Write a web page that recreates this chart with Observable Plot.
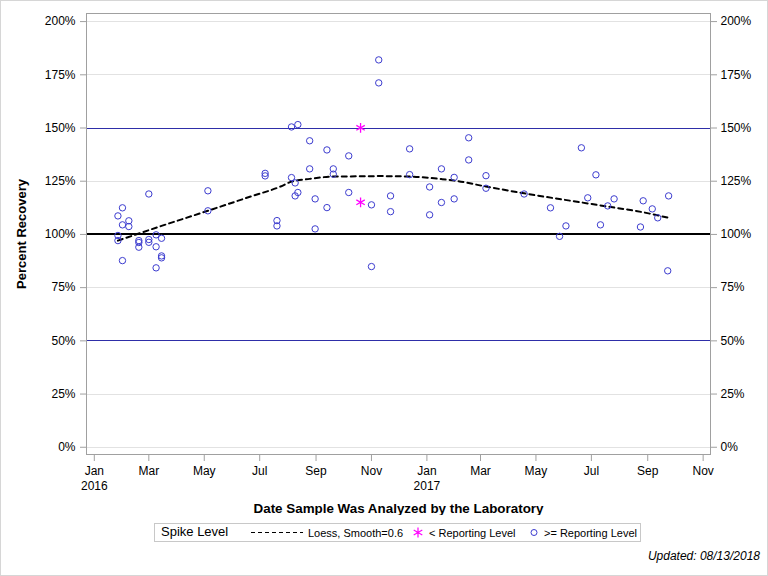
<!DOCTYPE html>
<html>
<head>
<meta charset="utf-8">
<script src="https://cdn.jsdelivr.net/npm/d3@7"></script>
<script src="https://cdn.jsdelivr.net/npm/@observablehq/plot@0.6"></script>
<style>
  body { margin: 0; background: #fff; font-family: "Liberation Sans", Arial, sans-serif; }
  #page { position: relative; width: 768px; height: 576px; overflow: hidden; background: #fff; }
  #edge { position: absolute; left: 0; top: 0; width: 768px; height: 576px; box-sizing: border-box; border: 1px solid #d6d6d6; pointer-events: none; }
  #chart { position: absolute; left: 0; top: 0; }
  #legend { position: absolute; left: 154px; top: 523px; width: 487px; height: 19px; box-sizing: border-box; border: 1px solid #c8c8c8; font-size: 11px; color: #000; }
  #legend .item { position: absolute; top: 2px; white-space: nowrap; line-height: 14px; }
  #legend svg { position: absolute; top: 0; }
  #updated { position: absolute; right: 8px; top: 549px; font-size: 12px; font-style: italic; color: #000; }
</style>
</head>
<body>
<div id="page">
  <div id="chart"></div>
  <div id="legend"></div>
  <div id="updated">Updated: 08/13/2018</div>
  <div id="edge"></div>
</div>
<script>
// Spike recoveries at or above the reporting level (analysis date, percent recovery)
const okDates = [
  "2016-01-27", "2016-01-27", "2016-01-27",
  "2016-02-01", "2016-02-01", "2016-02-01",
  "2016-02-08", "2016-02-08",
  "2016-02-19", "2016-02-19", "2016-02-19",
  "2016-03-01", "2016-03-01", "2016-03-01",
  "2016-03-09", "2016-03-09", "2016-03-09",
  "2016-03-15", "2016-03-15", "2016-03-15",
  "2016-05-05", "2016-05-05",
  "2016-07-07", "2016-07-07",
  "2016-07-20", "2016-07-20",
  "2016-08-05", "2016-08-05",
  "2016-08-09", "2016-08-09",
  "2016-08-12", "2016-08-12",
  "2016-08-25", "2016-08-25",
  "2016-08-31", "2016-08-31",
  "2016-09-13", "2016-09-13",
  "2016-09-20", "2016-09-20",
  "2016-10-07", "2016-10-07",
  "2016-11-01", "2016-11-01",
  "2016-11-09", "2016-11-09",
  "2016-11-22", "2016-11-22",
  "2016-12-13", "2016-12-13",
  "2017-01-04", "2017-01-04",
  "2017-01-17", "2017-01-17",
  "2017-01-31", "2017-01-31",
  "2017-02-16", "2017-02-16",
  "2017-03-07", "2017-03-07",
  "2017-04-18", "2017-05-17", "2017-05-27", "2017-06-03", "2017-06-20",
  "2017-06-27", "2017-07-06", "2017-07-11", "2017-07-19", "2017-07-26",
  "2017-08-24", "2017-08-27", "2017-09-06", "2017-09-12", "2017-09-23", "2017-09-24"
];
const okValues = [
  108.7, 99.5, 97.1,
  112.5, 104.5, 87.7,
  106.4, 103.7,
  97.1, 96.2, 94.0,
  119.0, 97.6, 96.3,
  99.8, 94.2, 84.3,
  98.2, 89.9, 89.0,
  120.5, 111.1,
  128.7, 127.5,
  106.5, 104.0,
  150.5, 126.7,
  124.2, 118.1,
  151.6, 119.7,
  144.0, 130.8,
  116.7, 102.6,
  139.7, 112.6,
  130.8, 128.3,
  136.9, 119.7,
  113.9, 84.9,
  182.0, 171.2,
  118.1, 110.7,
  140.2, 128.1,
  122.3, 109.2,
  130.8, 115.0,
  126.8, 116.7,
  145.4, 135.0,
  127.6, 121.7,
  119.0, 112.5, 99.1, 104.0, 140.7,
  117.2, 128.0, 104.5, 113.4, 116.7,
  103.5, 115.8, 112.0, 107.8, 82.9, 118.1
];

// Spike recoveries below the reporting level
const lowDates = ["2016-10-20", "2016-10-20"];
const lowValues = [150.1, 115.1];

// Loess fit (smooth = 0.6)
const loessDates = [
  "2016-01-27", "2016-03-15", "2016-05-05", "2016-06-21", "2016-07-24",
  "2016-08-05", "2016-08-25", "2016-09-20", "2016-10-20", "2016-11-11",
  "2016-12-13", "2017-01-17", "2017-01-31", "2017-03-07", "2017-04-18",
  "2017-06-19", "2017-07-19", "2017-08-27", "2017-09-24"
];
const loessValues = [
  97.1, 104.0, 111.1, 117.8, 122.5,
  124.8, 126.1, 127.2, 127.3, 127.4,
  127.2, 126.0, 125.3, 122.5, 119.3,
  115.1, 113.1, 110.4, 107.8
];

// Axis ticks and reference levels
const yTicks = [0, 25, 50, 75, 100, 125, 150, 175, 200];
const xTicks = [
  "2016-01-01", "2016-03-01", "2016-05-01", "2016-07-01", "2016-09-01", "2016-11-01",
  "2017-01-01", "2017-03-01", "2017-05-01", "2017-07-01", "2017-09-01", "2017-11-01"
];
const controlLimits = [50, 150];
const spikeLevel = [100];

const toDate = s => new Date(s + "T00:00:00Z");
const okRows = okDates.map((d, i) => ({date: toDate(d), value: okValues[i]}));
const lowRows = lowDates.map((d, i) => ({date: toDate(d), value: lowValues[i]}));
const loessRows = loessDates.map((d, i) => ({date: toDate(d), value: loessValues[i]}));
const xTickDates = xTicks.map(toDate);

const monthFmt = d3.utcFormat("%b");
const xTickFormat = d => d.getUTCMonth() === 0 ? `${monthFmt(d)}\n${d.getUTCFullYear()}` : monthFmt(d);
const pct = d => `${d}%`;

const font = '"Liberation Sans", Arial, sans-serif';
const pointBlue = "#3c3ccf";

const chart = Plot.plot({
  width: 768,
  height: 515,
  marginTop: 13,
  marginBottom: 61,
  marginLeft: 86,
  marginRight: 58,
  style: {fontFamily: font, fontSize: "11px", background: "transparent", color: "#000"},
  x: {type: "utc", domain: [new Date("2015-12-23T10:00:00Z"), new Date("2017-11-09T02:00:00Z")]},
  y: {domain: [-3.4, 203.8]},
  marks: [
    Plot.gridY(yTicks, {stroke: "#e2e2e2", strokeOpacity: 1, shapeRendering: "crispEdges"}),
    Plot.ruleY(controlLimits, {stroke: "#2e2ea8", strokeWidth: 1, shapeRendering: "crispEdges"}),
    Plot.ruleY(spikeLevel, {stroke: "#000", strokeWidth: 2, shapeRendering: "crispEdges"}),
    Plot.frame({stroke: "#a0a0a0", shapeRendering: "crispEdges"}),
    Plot.axisY(yTicks, {anchor: "left", tickFormat: pct, tickSize: 6, tickPadding: 5, stroke: "#a0a0a0", fill: "#000", fontSize: 12, label: null}),
    Plot.axisY(yTicks, {anchor: "right", tickFormat: pct, tickSize: 6, tickPadding: 4, stroke: "#a0a0a0", fill: "#000", fontSize: 12, label: null}),
    Plot.axisX(xTickDates, {anchor: "bottom", tickFormat: xTickFormat, tickSize: 7, tickPadding: 2, stroke: "#a0a0a0", fill: "#000", fontSize: 12, lineHeight: 1.3, label: null}),
    Plot.lineY(loessRows, {x: "date", y: "value", stroke: "#000", strokeWidth: 2, strokeDasharray: "5,4", curve: "monotone-x"}),
    Plot.dot(okRows, {x: "date", y: "value", r: 3.2, stroke: pointBlue, strokeWidth: 1, fill: "none"}),
    Plot.dot(lowRows, {x: "date", y: "value", symbol: "asterisk", r: 4.6, stroke: "#ff00ff", strokeWidth: 1.3}),
    Plot.text(["Date Sample Was Analyzed by the Laboratory"], {frameAnchor: "bottom", dy: 58, fontWeight: "bold", fontSize: 13.4, fill: "#000"}),
    Plot.text(["Percent Recovery"], {frameAnchor: "left", textAnchor: "middle", dx: -65, rotate: -90, fontWeight: "bold", fontSize: 13, fill: "#000"})
  ]
});
document.getElementById("chart").appendChild(chart);

// Legend
const legend = document.getElementById("legend");
legend.innerHTML = `
  <span class="item" style="left:6px;top:1px;font-size:13px;">Spike Level</span>
  <svg style="left:94px" width="56" height="17"><line x1="2" y1="8.5" x2="54" y2="8.5" stroke="#000" stroke-width="1" stroke-dasharray="4,3"/></svg>
  <span class="item" style="left:153px;">Loess, Smooth=0.6</span>
  <svg style="left:256px" width="14" height="17"><path d="M7,3.5V13.5M2.7,6L11.3,11M2.7,11L11.3,6" stroke="#ff00ff" stroke-width="1.2" fill="none"/></svg>
  <span class="item" style="left:274px;">&lt; Reporting Level</span>
  <svg style="left:372px" width="14" height="17"><circle cx="7" cy="8.5" r="3" stroke="${pointBlue}" stroke-width="1" fill="none"/></svg>
  <span class="item" style="left:389px;">&gt;= Reporting Level</span>
`;
</script>
</body>
</html>
